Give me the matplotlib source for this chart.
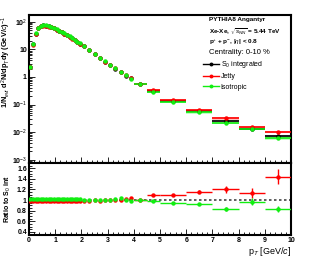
import numpy as np
import matplotlib
matplotlib.use("Agg")
import matplotlib.pyplot as plt
from matplotlib.lines import Line2D
from matplotlib.ticker import LogLocator, MultipleLocator, FixedLocator, NullFormatter, FixedFormatter

plt.rcParams['font.family'] = ['Liberation Sans', 'DejaVu Sans']
plt.rcParams['mathtext.fontset'] = 'custom'
plt.rcParams['mathtext.rm'] = 'Liberation Sans'
plt.rcParams['mathtext.it'] = 'Liberation Sans:italic'
plt.rcParams['mathtext.bf'] = 'Liberation Sans:bold'

# pT bins (centres and half widths)
pt = [0.05, 0.15, 0.25, 0.35, 0.45, 0.55, 0.65, 0.75, 0.85, 0.95,
      1.05, 1.15, 1.25, 1.35, 1.45, 1.55, 1.65, 1.75, 1.85, 1.95,
      2.1, 2.3, 2.5, 2.7, 2.9, 3.1, 3.3, 3.5, 3.7, 3.9,
      4.25, 4.75, 5.5, 6.5, 7.5, 8.5, 9.5]
pt_hw = [0.05] * 20 + [0.1] * 10 + [0.25, 0.25, 0.5, 0.5, 0.5, 0.5, 0.5]

# S0 integrated spectrum
s0_yield = [2.3, 15.0, 37.0, 60.0, 70.0, 73.0, 72.0, 68.0, 63.0, 58.0,
            52.0, 47.0, 42.0, 37.0, 33.0, 29.0, 25.0, 21.5, 18.5, 16.0,
            12.8, 9.2, 6.9, 4.9, 3.6, 2.7, 2.0, 1.5, 1.12, 0.88,
            0.55, 0.30, 0.135, 0.056, 0.026, 0.0135, 0.0072]

# ratios to S0 integrated
ratio_jetty = [0.98, 0.98, 0.99, 0.98, 0.98, 0.98, 0.98, 0.98, 0.98, 0.98,
               0.98, 0.98, 0.98, 0.98, 0.98, 0.98, 0.98, 0.99, 0.98, 0.99,
               0.99, 0.99, 1.00, 0.99, 1.00, 1.00, 1.01, 1.01, 1.02, 1.04,
               1.01, 1.09, 1.09, 1.16, 1.20, 1.13, 1.44]
ratio_jetty_err = [0.005] * 30 + [0.01, 0.015, 0.02, 0.035, 0.06, 0.09, 0.14]
ratio_iso = [1.02, 1.02, 1.02, 1.02, 1.02, 1.02, 1.02, 1.02, 1.02, 1.02,
             1.02, 1.02, 1.02, 1.02, 1.02, 1.02, 1.02, 1.02, 1.02, 1.02,
             1.01, 1.01, 1.00, 1.00, 1.01, 1.01, 1.02, 1.03, 1.01, 0.99,
             1.00, 0.98, 0.95, 0.92, 0.83, 0.97, 0.83]
ratio_iso_err = [0.005] * 30 + [0.01, 0.01, 0.015, 0.02, 0.03, 0.06, 0.05]

pt = np.array(pt)
pt_hw = np.array(pt_hw)
s0 = np.array(s0_yield)
jetty = s0 * np.array(ratio_jetty)
iso = s0 * np.array(ratio_iso)
xerr = np.where(pt > 4, pt_hw, 0)

W, H = 327, 273
fig = plt.figure(figsize=(W / 100, H / 100), dpi=100)
ax1 = fig.add_axes([29 / W, 1 - 163 / H, 262 / W, 148 / H])
ax2 = fig.add_axes([29 / W, 1 - 235 / H, 262 / W, 72 / H])

GREEN = '#11ee11'
series = [(s0, 'black', '#999999', r'S$_0$ integrated'),
          (jetty, 'red', '#ff9999', 'Jetty'),
          (iso, GREEN, '#99ff99', 'Isotropic')]
handles = []
for y, c, cbox, lab in series:
    for x, hw, v in zip(pt, pt_hw, y):
        if x > 4:
            ax1.add_patch(plt.Rectangle((x - hw, v * 0.9), 2 * hw, v * 0.2,
                                        color=cbox, alpha=0.6, lw=0, zorder=1))
    ax1.errorbar(pt, y, xerr=xerr, fmt='o', color=c,
                 ms=3.2, mew=0, elinewidth=1.2, capsize=0, zorder=3)
    handles.append(Line2D([], [], color=c, marker='o', ms=2.8, mew=0, lw=1.0, label=lab))

ax1.set_yscale('log')
ax1.set_xlim(0, 10)
ax1.set_ylim(0.76e-3, 175)
ax1.yaxis.set_major_locator(FixedLocator([1e-3, 1e-2, 1e-1, 1, 10, 100]))
ax1.yaxis.set_major_formatter(FixedFormatter([r'10$^{-3}$', r'10$^{-2}$', r'10$^{-1}$', '1', '10', r'10$^{2}$']))
ax1.yaxis.set_minor_locator(LogLocator(base=10, subs=np.arange(2, 10)))
ax1.yaxis.set_minor_formatter(NullFormatter())
ax1.set_xticklabels([])
ax1.set_ylabel(r'1/N$_{evt}$ d$^{2}$N/dp$_{T}$dy (GeV/$c$)$^{-1}$', fontsize=5.3,
               fontweight='bold', loc='top')
ax1.yaxis.set_label_coords(-0.061, 0.99)

# ratio panel
for r, re, c in [(ratio_jetty, ratio_jetty_err, 'red'),
                 (ratio_iso, ratio_iso_err, GREEN)]:
    ax2.errorbar(pt, r, xerr=xerr, yerr=re, fmt='o', color=c,
                 ms=3.2, mew=0, elinewidth=1.0, capsize=0, zorder=3)
ax2.axhline(1.0, color='#444444', ls=(0, (1.5, 1.5)), lw=1.2, zorder=2)
ax2.set_xlim(0, 10)
ax2.set_ylim(0.34, 1.7)
ax2.yaxis.set_major_locator(FixedLocator([0.4, 0.6, 0.8, 1.0, 1.2, 1.4, 1.6]))
ax2.yaxis.set_major_formatter(FixedFormatter(['0.4', '0.6', '0.8', '1', '1.2', '1.4', '1.6']))
ax2.yaxis.set_minor_locator(MultipleLocator(0.05))
ax2.set_ylabel(r'Ratio to S$_0$ int', fontsize=5.0, fontweight='bold')
ax2.yaxis.set_label_coords(-0.062, 0.5)
ax2.set_xlabel(r'p$_{T}$ [GeV/$c$]', fontsize=6.5, loc='right', labelpad=1)

for ax in (ax1, ax2):
    ax.xaxis.set_major_locator(MultipleLocator(1))
    ax.xaxis.set_minor_locator(MultipleLocator(0.2))
    ax.tick_params(which='both', direction='in', labelsize=5, pad=1.5, width=0.6)
    ax.tick_params(which='major', length=4)
    ax.tick_params(which='minor', length=2)
    for lbl in ax.get_xticklabels() + ax.get_yticklabels():
        lbl.set_fontweight('bold')
    for sp in ax.spines.values():
        sp.set_linewidth(1.5)

# text block
tx = 0.687
ax1.text(tx, 0.988, 'PYTHIA8 Angantyr', transform=ax1.transAxes, fontsize=4.6,
         fontweight='bold', va='top')
ax1.text(tx, 0.918, r'Xe-Xe, $\sqrt{s_{NN}}$ = 5.44 TeV', transform=ax1.transAxes,
         fontsize=4.6, fontweight='bold', va='top')
ax1.text(tx, 0.848, r'p$^{+}$ + p$^{-}$, |$\eta$| < 0.8', transform=ax1.transAxes,
         fontsize=4.6, fontweight='bold', va='top')
ax1.text(tx, 0.77, 'Centrality: 0-10 %', transform=ax1.transAxes, fontsize=5.5, va='top')
ax1.legend(handles=handles, loc='upper left', bbox_to_anchor=(0.66, 0.705), frameon=False,
           fontsize=5, handlelength=2.3, handletextpad=0.3, labelspacing=0.45,
           borderpad=0.1, borderaxespad=0)

fig.savefig('out.png', dpi=100)
